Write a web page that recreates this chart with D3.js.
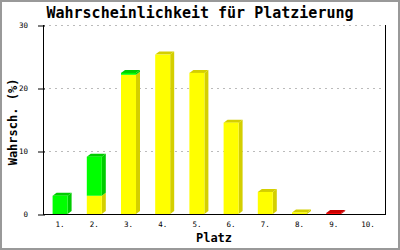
<!DOCTYPE html>
<html>
<head>
<meta charset="utf-8">
<script src="https://cdn.jsdelivr.net/npm/d3@7"></script>
<style>
  body { margin: 0; background: #fff; }
  svg text { font-family: "DejaVu Sans Mono", monospace; }
</style>
</head>
<body>
<svg id="chart"></svg>
<script>
// Platz 1..10
const places = ['1.', '2.', '3.', '4.', '5.', '6.', '7.', '8.', '9.', '10.']
// stacked series, values in %
const gelb  = [0, 2.9, 22.1, 25.3, 22.4, 14.5, 3.5, 0.25, 0, 0]
const gruen = [2.9, 6.2, 0.3, 0, 0, 0, 0, 0, 0, 0]
const rot   = [0, 0, 0, 0, 0, 0, 0, 0, 0.15, 0]
const yTicks = [0, 10, 20, 30]

const WIDTH = 400
const HEIGHT = 250
const LEFT = 43
const RIGHT = 385
const TOP = 25
const BOTTOM = 214
const BAR_W = 15
const DX = 4
const DY = 3

const colors = {
  gelb:  {front: '#ffff00', side: '#d4cf00'},
  gruen: {front: '#00ff00', side: '#00cc00'},
  rot:   {front: '#ff0000', side: '#cc0000'}
}

const rows = places.map((p, i) => ({place: p, gelb: gelb[i], gruen: gruen[i], rot: rot[i]}))
const keys = ['gelb', 'gruen', 'rot']
const stacked = d3.stack().keys(keys)(rows)

const x = d3.scaleBand().domain(places).range([LEFT, RIGHT]).padding(0)
const y = d3.scaleLinear().domain([0, 30]).range([BOTTOM, TOP])

const svg = d3.select('#chart').attr('width', WIDTH).attr('height', HEIGHT)

svg.append('rect')
  .attr('x', 1).attr('y', 1)
  .attr('width', WIDTH - 2).attr('height', HEIGHT - 2)
  .attr('fill', '#fff').attr('stroke', '#999').attr('stroke-width', 2)

// grid
svg.append('g').selectAll('line')
  .data(yTicks.filter(d => d > 0))
  .enter().append('line')
    .attr('x1', LEFT).attr('x2', RIGHT)
    .attr('y1', d => Math.round(y(d)) + 0.5).attr('y2', d => Math.round(y(d)) + 0.5)
    .attr('stroke', '#bbb').attr('stroke-dasharray', '2,4')

// bars (3d look)
const segs = []
stacked.forEach(s => {
  s.forEach((d, i) => {
    if (d[1] - d[0] <= 0) return
    segs.push({key: s.key, i: i, y0: d[0], y1: d[1]})
  })
})
const topOf = {}
segs.forEach(s => { topOf[s.i] = s })

const bars = svg.append('g')
segs.forEach(s => {
  const x0 = x(places[s.i]) + (x.bandwidth() - BAR_W) / 2
  const x1 = x0 + BAR_W
  const yt = y(s.y1)
  const yb = y(s.y0)
  const c = colors[s.key]
  bars.append('polygon')
    .attr('points', [[x1, yt], [x1 + DX, yt - DY], [x1 + DX, yb - DY], [x1, yb]].join(' '))
    .attr('fill', c.side)
  if (topOf[s.i] === s) {
    bars.append('polygon')
      .attr('points', [[x0, yt], [x0 + DX, yt - DY], [x1 + DX, yt - DY], [x1, yt]].join(' '))
      .attr('fill', c.side)
  }
  bars.append('rect')
    .attr('x', x0).attr('y', yt)
    .attr('width', BAR_W).attr('height', yb - yt)
    .attr('fill', c.front)
})

// axes
svg.append('line')
  .attr('x1', LEFT + 0.5).attr('x2', LEFT + 0.5)
  .attr('y1', TOP).attr('y2', BOTTOM + 0.5)
  .attr('stroke', '#000')
svg.append('line')
  .attr('x1', RIGHT + 0.5).attr('x2', RIGHT + 0.5)
  .attr('y1', TOP).attr('y2', BOTTOM + 0.5)
  .attr('stroke', '#000')
svg.append('line')
  .attr('x1', LEFT).attr('x2', RIGHT + 1)
  .attr('y1', BOTTOM + 0.5).attr('y2', BOTTOM + 0.5)
  .attr('stroke', '#000')

const yAxis = svg.append('g')
  .attr('transform', `translate(${LEFT + 2},0.5)`)
  .call(d3.axisLeft(y).tickValues(yTicks).tickSize(7).tickPadding(10).tickFormat(d3.format('d')))
yAxis.select('.domain').remove()
yAxis.selectAll('text').attr('font-size', 7.5).attr('font-family', '"DejaVu Sans Mono", monospace')

const xAxis = svg.append('g')
  .attr('transform', `translate(0,${BOTTOM})`)
  .call(d3.axisBottom(x).tickSize(0).tickPadding(8))
xAxis.select('.domain').remove()
xAxis.selectAll('text').attr('font-size', 7.5).attr('font-family', '"DejaVu Sans Mono", monospace')

// titles
svg.append('text')
  .attr('x', 200).attr('y', 17.5)
  .attr('text-anchor', 'middle')
  .attr('font-size', 15).attr('font-weight', 'bold')
  .text('Wahrscheinlichkeit für Platzierung')

svg.append('text')
  .attr('x', (LEFT + RIGHT) / 2).attr('y', 242)
  .attr('text-anchor', 'middle')
  .attr('font-size', 12).attr('font-weight', 'bold')
  .text('Platz')

svg.append('text')
  .attr('transform', 'translate(16.5,122) rotate(-90)')
  .attr('text-anchor', 'middle')
  .attr('font-size', 12).attr('font-weight', 'bold')
  .text('Wahrsch. (%)')
</script>
</body>
</html>
